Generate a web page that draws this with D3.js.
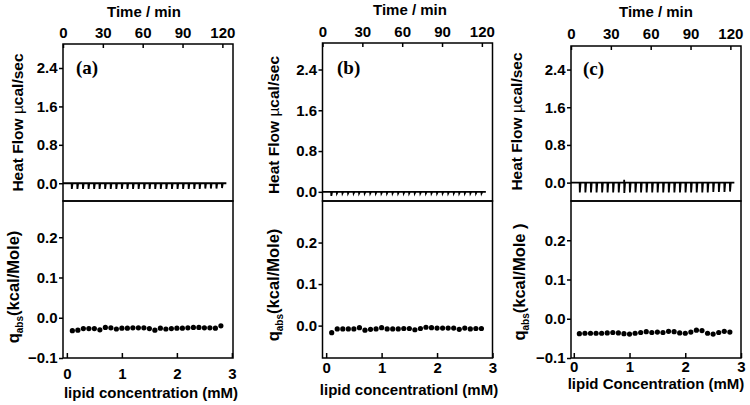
<!DOCTYPE html>
<html><head><meta charset="utf-8">
<script src="https://cdn.jsdelivr.net/npm/d3@7"></script>
<style>body{margin:0;background:#fff}svg{display:block}</style>
</head><body>
<svg id="chart" width="750" height="405"></svg>
<script>
// ---------------- data ----------------
const panelLabels = ["(a)", "(b)", "(c)"];
const timeTitle = "Time / min";
const timeTicks = [0, 30, 60, 90, 120];
const heatTicks = [0.0, 0.8, 1.6, 2.4];
const qTicksAC = [-0.1, 0.0, 0.1, 0.2];
const qTicksB = [0.0, 0.1, 0.2];
const concTicks = [0, 1, 2, 3];
const xTitles = ["lipid concentration (mM)", "lipid concentrationl (mM)", "lipid Concentration (mM)"];
const qUnits = ["(kcal/Mole)", "(kcal/Mole)", "(kcal/Mole )"];

// injection times (min) of the ITC run
const injectionTimes = [6.5, 10.7, 14.9, 19.1, 23.3, 27.4, 31.6, 35.8, 40.0, 44.2, 48.4, 52.6, 56.8, 61.0,
  65.1, 69.3, 73.5, 77.7, 81.9, 86.1, 90.3, 94.5, 98.7, 102.8, 107.0, 111.2, 115.4, 119.6];
const runEnd = 123;
// peak heat flow (µcal/sec) of each injection
const heatPeakA = [-0.12, -0.12, -0.12, -0.12, -0.12, -0.12, -0.12, -0.12, -0.12, -0.12, -0.12, -0.12, -0.12, -0.12,
  -0.12, -0.12, -0.12, -0.12, -0.12, -0.12, -0.12, -0.12, -0.12, -0.12, -0.11, -0.11, -0.11, -0.10];
const heatPeakB = [-0.08, -0.03, -0.03, -0.03, -0.03, -0.03, -0.03, -0.03, -0.03, -0.03, -0.03, -0.03, -0.03, -0.03,
  -0.03, -0.03, -0.03, -0.03, -0.03, -0.03, -0.03, -0.03, -0.03, -0.03, -0.03, -0.03, -0.03, -0.03];
const heatPeakC = [-0.21, -0.21, -0.21, -0.21, -0.21, -0.21, -0.21, -0.21, -0.22, -0.21, -0.21, -0.21, -0.21, -0.21,
  -0.21, -0.21, -0.21, -0.21, -0.21, -0.21, -0.21, -0.21, -0.21, -0.21, -0.20, -0.20, -0.20, -0.19];
const heatRiseC = [0, 0, 0, 0, 0, 0, 0, 0, 0.06, 0, 0, 0, 0, 0, 0, 0, 0, 0, 0, 0, 0, 0, 0, 0, 0, 0, 0, 0];

// lipid concentration (mM) after each injection
const concentration = [0.1, 0.2, 0.3, 0.4, 0.5, 0.6, 0.7, 0.8, 0.9, 1.0, 1.1, 1.2, 1.3, 1.4,
  1.5, 1.6, 1.7, 1.8, 1.9, 2.0, 2.1, 2.2, 2.3, 2.4, 2.5, 2.6, 2.7, 2.8];
// integrated heats q_abs (kcal/Mole)
const qA = [-0.032, -0.031, -0.027, -0.027, -0.027, -0.030, -0.024, -0.025, -0.028, -0.026, -0.026, -0.025, -0.025, -0.025,
  -0.027, -0.031, -0.026, -0.028, -0.027, -0.026, -0.026, -0.025, -0.024, -0.024, -0.025, -0.025, -0.026, -0.020];
const qB = [-0.017, -0.008, -0.008, -0.008, -0.008, -0.005, -0.011, -0.009, -0.008, -0.005, -0.008, -0.008, -0.008, -0.007,
  -0.007, -0.010, -0.007, -0.004, -0.005, -0.006, -0.006, -0.006, -0.006, -0.009, -0.006, -0.008, -0.007, -0.007];
const qC = [-0.038, -0.037, -0.037, -0.037, -0.037, -0.036, -0.035, -0.036, -0.038, -0.039, -0.037, -0.035, -0.033, -0.035,
  -0.034, -0.035, -0.032, -0.033, -0.036, -0.037, -0.034, -0.029, -0.030, -0.037, -0.039, -0.035, -0.032, -0.034];

// ---------------- layout ----------------
const layout = [
  { left: 63, right: 233, top: 44, mid: 201, bottom: 358,
    heatDom: [-0.37, 2.9], qDom: [-0.1, 0.29], concDom: [-0.07, 3.02], qTicks: qTicksAC,
    peaks: heatPeakA, rises: null, q: qA,
    titleX: 144, titleY: 16.5, topPad: 6, botPad: 10, xTitleX: 151, xTitleY: 398,
    hLabX: 23, hLabY: 122.5, qLabX: 19, qLabY: 287, tagX: 76, tagY: 74 },
  { left: 322.5, right: 492.5, top: 43, mid: 201, bottom: 358,
    heatDom: [-0.18, 2.92], qDom: [-0.078, 0.3], concDom: [-0.066, 3.0], qTicks: qTicksB,
    peaks: heatPeakB, rises: null, q: qB,
    titleX: 410, titleY: 15, topPad: 6, botPad: 4.5, xTitleX: 409, xTitleY: 395,
    hLabX: 279, hLabY: 125, qLabX: 279, qLabY: 285, tagX: 337, tagY: 73.5 },
  { left: 571, right: 741, top: 46, mid: 201, bottom: 358,
    heatDom: [-0.39, 2.9], qDom: [-0.1, 0.3], concDom: [-0.05, 3.0], qTicks: qTicksAC,
    peaks: heatPeakC, rises: heatRiseC, q: qC,
    titleX: 656, titleY: 16.5, topPad: 7.5, botPad: 3.5, xTitleX: 656, xTitleY: 388.5,
    hLabX: 522, hLabY: 121.5, qLabX: 525, qLabY: 282, tagX: 583, tagY: 75 }
];

const FONT = "'Liberation Sans', Arial, sans-serif";
const svg = d3.select("#chart");
svg.append("rect").attr("width", 750).attr("height", 405).attr("fill", "#fff");

layout.forEach((p, i) => {
  const g = svg.append("g");
  const x = d3.scaleLinear().domain([0, 128]).range([p.left, p.right]);
  const yH = d3.scaleLinear().domain(p.heatDom).range([p.mid, p.top]);
  const xC = d3.scaleLinear().domain(p.concDom).range([p.left, p.right]);
  const yQ = d3.scaleLinear().domain(p.qDom).range([p.bottom, p.mid]);

  // heat flow trace
  const pts = [[0, 0]];
  injectionTimes.forEach((t, k) => {
    pts.push([t, 0]);
    if (p.rises && p.rises[k]) pts.push([t + 0.05, p.rises[k]]);
    pts.push([t + 0.15, p.peaks[k]], [t + 0.7, 0]);
  });
  pts.push([runEnd, 0]);
  g.append("path")
    .attr("d", d3.line().x(d => x(d[0])).y(d => yH(d[1]))(pts))
    .attr("fill", "none").attr("stroke", "#000").attr("stroke-width", 1.8)
    .attr("stroke-linejoin", "miter");

  // integrated heats
  g.selectAll("circle.pt").data(concentration).enter().append("circle")
    .attr("cx", d => xC(d)).attr("cy", (d, k) => yQ(p.q[k])).attr("r", 2.6).attr("fill", "#000");

  // axes
  const styleAxis = sel => {
    sel.select(".domain").remove();
    sel.selectAll("line").attr("stroke", "#000").attr("stroke-width", 1.5);
    sel.selectAll("text").attr("font-family", FONT).attr("font-weight", "bold")
      .attr("font-size", 15).attr("fill", "#000");
  };
  g.append("g").attr("transform", `translate(0,${p.top})`)
    .call(d3.axisTop(x).tickValues(timeTicks).tickSizeInner(-4).tickSizeOuter(0).tickPadding(p.topPad))
    .call(styleAxis);
  g.append("g").attr("transform", `translate(${p.left},0)`)
    .call(d3.axisLeft(yH).tickValues(heatTicks).tickFormat(d3.format(".1f")).tickSizeOuter(0).tickSize(4).tickPadding(1.5))
    .call(styleAxis);
  g.append("g").attr("transform", `translate(${p.left},0)`)
    .call(d3.axisLeft(yQ).tickValues(p.qTicks).tickFormat(d3.format(".1f")).tickSizeOuter(0).tickSize(4).tickPadding(1.5))
    .call(styleAxis);
  g.append("g").attr("transform", `translate(0,${p.bottom})`)
    .call(d3.axisBottom(xC).tickValues(concTicks).tickFormat(d3.format("d")).tickSizeInner(-5).tickSizeOuter(0).tickPadding(p.botPad))
    .call(styleAxis);

  // frames
  [[p.top, p.mid], [p.mid, p.bottom]].forEach(([a, b]) => {
    g.append("rect").attr("x", p.left).attr("y", a).attr("width", p.right - p.left).attr("height", b - a)
      .attr("fill", "none").attr("stroke", "#000").attr("stroke-width", 1.5);
  });

  // titles
  g.append("text").attr("x", p.titleX).attr("y", p.titleY).attr("text-anchor", "middle")
    .attr("font-family", FONT).attr("font-weight", "bold").attr("font-size", 15).text(timeTitle);
  g.append("text").attr("x", p.xTitleX).attr("y", p.xTitleY).attr("text-anchor", "middle")
    .attr("font-family", FONT).attr("font-weight", "bold").attr("font-size", 15).text(xTitles[i]);

  const hl = g.append("text").attr("transform", `translate(${p.hLabX},${p.hLabY}) rotate(-90)`)
    .attr("text-anchor", "middle").attr("font-family", FONT).attr("font-weight", "bold").attr("font-size", 15.5);
  hl.append("tspan").text("Heat Flow ");
  hl.append("tspan").attr("font-weight", "normal").text("µ");
  hl.append("tspan").text("cal/sec");

  const ql = g.append("text").attr("transform", `translate(${p.qLabX},${p.qLabY}) rotate(-90)`)
    .attr("text-anchor", "middle").attr("font-family", FONT).attr("font-weight", "bold").attr("font-size", 16.5);
  ql.append("tspan").text("q");
  ql.append("tspan").attr("font-size", 10).attr("dy", 4).text("abs");
  ql.append("tspan").attr("dy", -4).text(qUnits[i]);

  g.append("text").attr("x", p.tagX).attr("y", p.tagY)
    .attr("font-family", "'Liberation Serif', 'Times New Roman', serif").attr("font-weight", "bold")
    .attr("font-size", 19).text(panelLabels[i]);
});
</script>
</body></html>
